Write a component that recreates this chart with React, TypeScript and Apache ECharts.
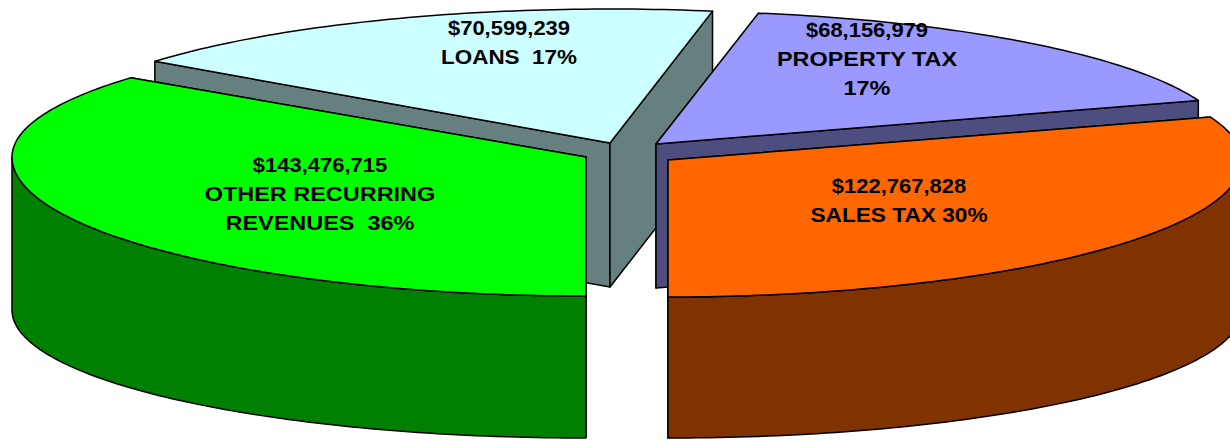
import React, { useEffect, useRef } from "react";
import * as echarts from "echarts";

const categories = ["LOANS", "PROPERTY TAX", "SALES TAX", "OTHER RECURRING REVENUES"];
const seriesValues = [70599239, 68156979, 122767828, 143476715];
const amountLabels = ["$70,599,239", "$68,156,979", "$122,767,828", "$143,476,715"];
const captionLabels = [
  "LOANS  17%",
  "PROPERTY TAX\n17%",
  "SALES TAX 30%",
  "OTHER RECURRING\nREVENUES  36%",
];
const topColors = ["#CCFFFF", "#9999FF", "#FF6600", "#00FF00"];
const wallColors = ["#668080", "#4D4D80", "#803300", "#008000"];

const RX = 574;
const LINE = 29;
const FONT = 'bold 21px "Liberation Sans", Arial, sans-serif';
const layout = [
  { cx: 610, cy: 143, ryUp: 134, ryDown: 137, depth: 144, cut: 144, wallRy: 130, lx: 509, ly: 28, capScale: 1.07 },
  { cx: 656, cy: 144, ryUp: 133, ryDown: 137, depth: 144, cut: 144, wallRy: 130, lx: 867, ly: 30, capScale: 1.117 },
  { cx: 668, cy: 160, ryUp: 131, ryDown: 137, depth: 150, cut: 141, wallRy: 128, lx: 899, ly: 186, capScale: 1.08 },
  { cx: 586, cy: 157, ryUp: 130, ryDown: 139, depth: 153, cut: 141, wallRy: 128, lx: 320, ly: 165, capScale: 1.117 },
];

const total = seriesValues.reduce((a, b) => a + b, 0);
const toRad = (d: number) => (d * Math.PI) / 180;
// Sales tax ends pointing straight down; angles run clockwise from the top.
const firstStart =
  180 - ((seriesValues[0] + seriesValues[1] + seriesValues[2]) / total) * 360;

function renderItem(params: any, api: any) {
  const i = params.dataIndex;
  const value = api.value(0);
  let before = 0;
  for (let k = 0; k < i; k++) before += seriesValues[k];
  const a0 = firstStart + (before / total) * 360;
  const a1 = a0 + (value / total) * 360;
  const g = layout[i];
  const rim = (deg: number): number[] => {
    const c = Math.cos(toRad(deg));
    return [g.cx + RX * Math.sin(toRad(deg)), g.cy - (c > 0 ? g.ryUp : g.ryDown) * c];
  };
  const rimLow = (deg: number): number[] => {
    const c = Math.cos(toRad(deg));
    return [g.cx + RX * Math.sin(toRad(deg)), g.cy + g.depth - g.wallRy * c];
  };
  const arc = (f: (d: number) => number[], s: number, e: number) => {
    const pts: number[][] = [];
    const n = Math.max(1, Math.ceil(Math.abs(e - s)));
    for (let k = 0; k <= n; k++) pts.push(f(s + ((e - s) * k) / n));
    return pts;
  };
  const stroke = { stroke: "#000", lineWidth: 1.5, lineJoin: "round" };
  const apex = [g.cx, g.cy];
  const apexLow = [g.cx, g.cy + g.cut];
  const face = (deg: number) => {
    const p = rim(deg);
    return {
      type: "polygon",
      shape: { points: [apex, p, [p[0], p[1] + g.cut], apexLow] },
      style: { fill: wallColors[i], ...stroke },
    };
  };
  const children: any[] = [face(a0), face(a1)];
  const w0 = Math.max(a0, 90);
  const w1 = Math.min(a1, 270);
  if (w1 > w0) {
    children.push({
      type: "polygon",
      shape: { points: [...arc(rim, w0, w1), ...arc(rimLow, w1, w0)] },
      style: { fill: wallColors[i], ...stroke },
    });
  }
  children.push({
    type: "polygon",
    shape: { points: [apex, ...arc(rim, a0, a1)] },
    style: { fill: topColors[i], ...stroke },
  });
  const textStyle = {
    fill: "#000",
    font: FONT,
    align: "center",
    verticalAlign: "middle",
    lineHeight: LINE,
  };
  children.push({
    type: "text",
    x: g.lx,
    y: g.ly,
    scaleX: 1.046,
    style: { ...textStyle, text: amountLabels[i] },
  });
  captionLabels[i].split("\n").forEach((line, n) => {
    children.push({
      type: "text",
      x: g.lx,
      y: g.ly + LINE * (n + 1),
      scaleX: g.capScale,
      style: { ...textStyle, text: line },
    });
  });
  return { type: "group", children };
}

export default function App() {
  const ref = useRef<HTMLDivElement>(null);
  useEffect(() => {
    const chart = echarts.init(ref.current!, undefined, { renderer: "svg" });
    chart.setOption({
      animation: false,
      backgroundColor: "#fff",
      series: [
        {
          type: "custom",
          coordinateSystem: "none",
          silent: true,
          renderItem,
          data: seriesValues.map((v, i) => ({ name: categories[i], value: [v] })),
        },
      ],
    });
    return () => chart.dispose();
  }, []);
  return (
    <div
      ref={ref}
      style={{ position: "fixed", left: 0, top: 0, width: 1230, height: 440, background: "#fff" }}
    />
  );
}
